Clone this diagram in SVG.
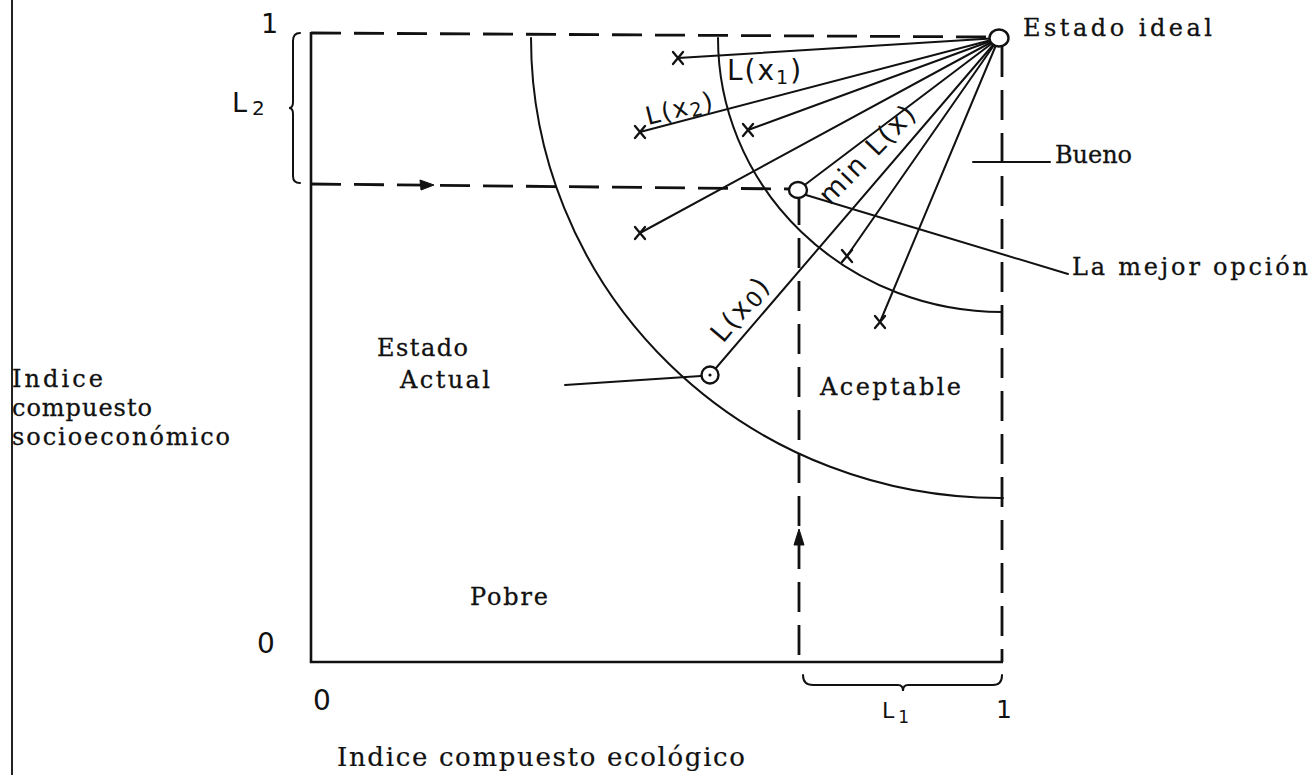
<svg xmlns="http://www.w3.org/2000/svg" xmlns:xlink="http://www.w3.org/1999/xlink" width="1312" height="775" viewBox="0 0 1312 775">
<defs>
<style>
.bg{fill:#ffffff}
.ln{stroke:#111;stroke-width:2;fill:none;stroke-linecap:round}
.fr{stroke:#111;stroke-width:2.6;fill:none}
.ds{stroke:#111;stroke-width:2.8;fill:none;stroke-dasharray:30 13}
.pt{fill:#fff;stroke:#111;stroke-width:2.4}
.ah{fill:#111;stroke:#111;stroke-width:1}
.ty{font-family:"DejaVu Serif","Liberation Serif",serif;font-size:24px;fill:#111;stroke:#111;stroke-width:0.3}
.tt{font-family:"DejaVu Serif","Liberation Serif",serif;font-size:26px;fill:#111;stroke:#111;stroke-width:0.2}
.hw{font-family:"DejaVu Sans","Liberation Sans",sans-serif;fill:#111;letter-spacing:2px}
</style>
<g id="xm"><path d="M-5,-6 L5,6 M5,-6 L-5,6" stroke="#111" stroke-width="2.3" fill="none" stroke-linecap="round"/></g>
</defs>
<rect class="bg" x="0" y="0" width="1312" height="775"/>
<line x1="12" y1="0" x2="12" y2="775" stroke="#222" stroke-width="2"/>

<g id="connectors">
  <!-- frame -->
  <path class="fr" d="M311,32 L311,662 L1003,662"/>
  <!-- dashed guides -->
  <path class="ds" d="M311,33 L990,37"/>
  <path class="ds" d="M311,184 L789,189"/>
  <path class="ds" d="M1002,47 L1002,662"/>
  <path class="ds" d="M799,199 L799,662" style="stroke-dashoffset:4"/>
  <path class="ah" d="M434,185 L420,180 L421,190 Z"/>
  <path class="ah" d="M799,529 L794,545 L804,545 Z"/>
  <!-- arcs -->
  <path class="ln" d="M531,38 A469 460 0 0 0 1003,498"/>
  <path class="ln" d="M718,38 A284 274 0 0 0 1002,312"/>
  <!-- distance lines from ideal state -->
  <line class="ln" x1="678" y1="58" x2="999" y2="38"/>
  <line class="ln" x1="640" y1="132" x2="999" y2="38"/>
  <line class="ln" x1="748" y1="130" x2="999" y2="38"/>
  <line class="ln" x1="640" y1="233" x2="999" y2="38"/>
  <line class="ln" x1="798" y1="190" x2="999" y2="38"/>
  <line class="ln" x1="710" y1="375" x2="999" y2="38"/>
  <line class="ln" x1="847" y1="256" x2="999" y2="38"/>
  <line class="ln" x1="880" y1="322" x2="999" y2="38"/>
  <!-- leaders -->
  <line class="ln" x1="973" y1="162" x2="1050" y2="162"/>
  <line class="ln" x1="806" y1="195" x2="1068" y2="274"/>
  <line class="ln" x1="565" y1="385" x2="701" y2="376"/>
  <!-- braces -->
  <path class="ln" d="M300,33 Q293,33 293,41 L293,102 Q293,108 289,108 Q293,108 293,114 L293,176 Q293,183 300,183"/>
  <path class="ln" d="M803,675 Q803,685 813,685 L898,685 Q903,685 903,691 Q903,685 908,685 L993,685 Q1002,685 1002,675"/>
</g>

<g id="ideal-state">
  <ellipse class="pt" cx="999" cy="38" rx="9.5" ry="8.5"/>
  <text class="ty" x="1023" y="36" textLength="189" lengthAdjust="spacing">Estado ideal</text>
</g>
<g id="best-option">
  <ellipse class="pt" cx="798" cy="190" rx="9" ry="8"/>
  <text class="ty" x="1072" y="275" textLength="236" lengthAdjust="spacing">La mejor opción</text>
</g>
<g id="current-state">
  <circle class="pt" cx="710" cy="375" r="8.5"/>
  <circle cx="710" cy="375" r="1.6" fill="#111"/>
  <text class="ty" x="377" y="356" textLength="91" lengthAdjust="spacing">Estado</text>
  <text class="ty" x="400" y="388" textLength="90" lengthAdjust="spacing">Actual</text>
</g>
<g id="alternatives">
  <use xlink:href="#xm" x="678" y="58"/>
  <use xlink:href="#xm" x="640" y="132"/>
  <use xlink:href="#xm" x="748" y="130"/>
  <use xlink:href="#xm" x="640" y="233"/>
  <use xlink:href="#xm" x="847" y="256"/>
  <use xlink:href="#xm" x="880" y="322"/>
</g>
<g id="distance-labels">
  <text class="hw" font-size="28" x="727" y="80">L(x<tspan font-size="19" dy="4">1</tspan><tspan dy="-4">)</tspan></text>
  <text class="hw" font-size="25" transform="translate(648,125) rotate(-14)">L(x<tspan font-size="19" dy="3">2</tspan><tspan dy="-3">)</tspan></text>
  <text class="hw" font-size="27" transform="translate(830,206) rotate(-46)">min L(x)</text>
  <text class="hw" font-size="27" transform="translate(723,344) rotate(-50)">L(x<tspan font-size="22" dy="3">0</tspan><tspan dy="-3">)</tspan></text>
</g>
<g id="regions">
  <text class="ty" x="1055" y="163" textLength="77" lengthAdjust="spacing">Bueno</text>
  <text class="ty" x="820" y="395" textLength="141" lengthAdjust="spacing">Aceptable</text>
  <text class="ty" x="470" y="605" textLength="78" lengthAdjust="spacing">Pobre</text>
</g>
<g id="axis-labels">
  <text class="ty" x="12" y="387" textLength="91" lengthAdjust="spacing">Indice</text>
  <text class="ty" x="12" y="416" textLength="140" lengthAdjust="spacing">compuesto</text>
  <text class="ty" x="12" y="445" textLength="218" lengthAdjust="spacing">socioeconómico</text>
  <text class="tt" x="337" y="766" textLength="408" lengthAdjust="spacing">Indice compuesto ecológico</text>
  <text class="hw" font-size="27" x="261" y="33">1</text>
  <text class="hw" font-size="27" x="232" y="112">L<tspan font-size="20" dx="3" dy="3">2</tspan></text>
  <text class="hw" font-size="28" x="257" y="653">0</text>
  <text class="hw" font-size="28" x="313" y="710">0</text>
  <text class="hw" font-size="22" x="882" y="718">L<tspan font-size="17" dx="2" dy="5">1</tspan></text>
  <text class="hw" font-size="25" x="996" y="718">1</text>
</g>
</svg>
